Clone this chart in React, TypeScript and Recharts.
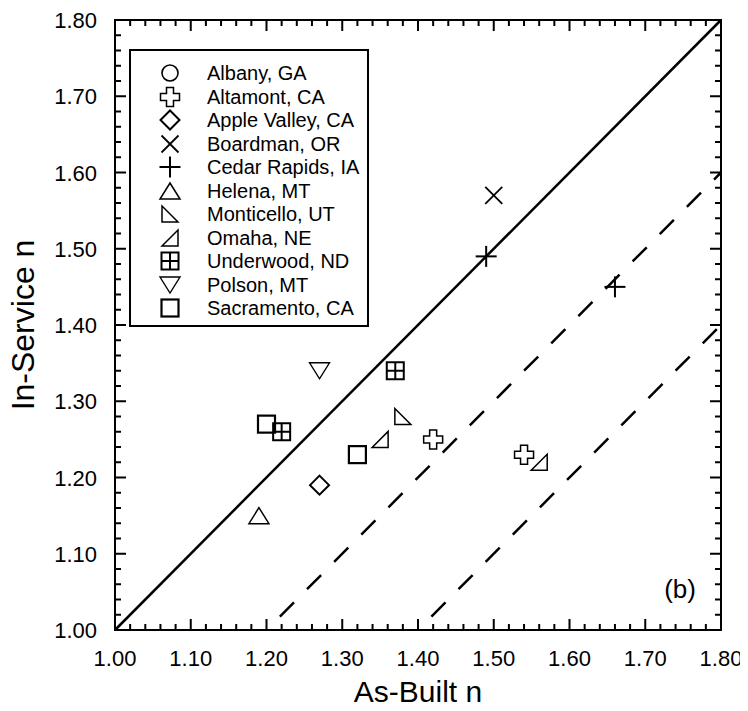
import { ScatterChart, Scatter, XAxis, YAxis, ReferenceLine, ReferenceDot, Legend } from 'recharts';

type Pt = { x: number; y: number };

// as-built n (x) vs in-service n (y), one array per site
const albany: Pt[] = [];
const altamont: Pt[] = [{ x: 1.42, y: 1.25 }, { x: 1.54, y: 1.23 }];
const appleValley: Pt[] = [{ x: 1.27, y: 1.19 }];
const boardman: Pt[] = [{ x: 1.5, y: 1.57 }];
const cedarRapids: Pt[] = [{ x: 1.49, y: 1.49 }, { x: 1.66, y: 1.45 }];
const helena: Pt[] = [{ x: 1.19, y: 1.15 }];
const monticello: Pt[] = [{ x: 1.38, y: 1.28 }];
const omaha: Pt[] = [{ x: 1.35, y: 1.25 }, { x: 1.56, y: 1.22 }];
const underwood: Pt[] = [{ x: 1.37, y: 1.34 }, { x: 1.22, y: 1.26 }];
const polson: Pt[] = [{ x: 1.27, y: 1.34 }];
const sacramento: Pt[] = [{ x: 1.2, y: 1.27 }, { x: 1.32, y: 1.23 }];

const majorTicks = [1.0, 1.1, 1.2, 1.3, 1.4, 1.5, 1.6, 1.7, 1.8];
const axisTicks = Array.from({ length: 41 }, (_, i) => (100 + 2 * i) / 100);

const series = [
  { name: 'Albany, GA', data: albany, marker: 'circle' },
  { name: 'Altamont, CA', data: altamont, marker: 'openCross' },
  { name: 'Apple Valley, CA', data: appleValley, marker: 'diamond' },
  { name: 'Boardman, OR', data: boardman, marker: 'x' },
  { name: 'Cedar Rapids, IA', data: cedarRapids, marker: 'plus' },
  { name: 'Helena, MT', data: helena, marker: 'triUp' },
  { name: 'Monticello, UT', data: monticello, marker: 'triLeft' },
  { name: 'Omaha, NE', data: omaha, marker: 'triRight' },
  { name: 'Underwood, ND', data: underwood, marker: 'squarePlus' },
  { name: 'Polson, MT', data: polson, marker: 'triDown' },
  { name: 'Sacramento, CA', data: sacramento, marker: 'square' },
];

const FONT = 'Arial, "Liberation Sans", Helvetica, sans-serif';
const isMajor = (v: number) => majorTicks.some((m) => Math.abs(m - v) < 1e-6);

function poly(cx: number, cy: number, pts: number[][]) {
  return pts.map(([px, py]) => `${cx + px},${cy + py}`).join(' ');
}

function Marker({ kind, cx, cy }: { kind: string; cx: number; cy: number }) {
  const st = { fill: 'none', stroke: '#000' };
  switch (kind) {
    case 'circle':
      return <circle cx={cx} cy={cy} r={8} {...st} strokeWidth={1.6} />;
    case 'openCross': {
      const a = 3.5, e = 9.5;
      const pts = [[-a, -e], [a, -e], [a, -a], [e, -a], [e, a], [a, a], [a, e], [-a, e], [-a, a], [-e, a], [-e, -a], [-a, -a]];
      return <polygon points={poly(cx, cy, pts)} {...st} strokeWidth={1.5} />;
    }
    case 'diamond':
      return <polygon points={poly(cx, cy, [[0, -9.5], [9.5, 0], [0, 9.5], [-9.5, 0]])} {...st} strokeWidth={2} />;
    case 'x':
      return (
        <g {...st} strokeWidth={1.8}>
          <line x1={cx - 8.5} y1={cy - 8.5} x2={cx + 8.5} y2={cy + 8.5} />
          <line x1={cx - 8.5} y1={cy + 8.5} x2={cx + 8.5} y2={cy - 8.5} />
        </g>
      );
    case 'plus':
      return (
        <g {...st} strokeWidth={2}>
          <line x1={cx - 10.5} y1={cy} x2={cx + 10.5} y2={cy} />
          <line x1={cx} y1={cy - 10.5} x2={cx} y2={cy + 10.5} />
        </g>
      );
    case 'triUp':
      return <polygon points={poly(cx, cy, [[0, -8], [10, 8], [-10, 8]])} {...st} strokeWidth={1.5} />;
    case 'triLeft':
      return <polygon points={poly(cx, cy, [[-8, -8], [-8, 8], [8, 8]])} {...st} strokeWidth={1.5} />;
    case 'triRight':
      return <polygon points={poly(cx, cy, [[8, -8], [8, 8], [-8, 8]])} {...st} strokeWidth={1.5} />;
    case 'squarePlus':
      return (
        <g {...st} strokeWidth={2}>
          <rect x={cx - 8.5} y={cy - 8.5} width={17} height={17} />
          <line x1={cx - 8.5} y1={cy} x2={cx + 8.5} y2={cy} />
          <line x1={cx} y1={cy - 8.5} x2={cx} y2={cy + 8.5} />
        </g>
      );
    case 'triDown':
      return <polygon points={poly(cx, cy, [[-10, -8], [10, -8], [0, 8]])} {...st} strokeWidth={1.4} />;
    default:
      return <rect x={cx - 8.5} y={cy - 8.5} width={17} height={17} {...st} strokeWidth={2.2} />;
  }
}

// custom ticks: inward tick marks, labels only on major ticks
const BottomTick = ({ x, y, payload }: any) => {
  const major = isMajor(payload.value);
  return (
    <g>
      <line x1={x} x2={x} y1={y} y2={y - (major ? 11 : 6)} stroke="#000" strokeWidth={2} />
      {major && (
        <text x={x} y={y + 36} textAnchor="middle" fontSize={22} fill="#000">
          {payload.value.toFixed(2)}
        </text>
      )}
    </g>
  );
};

const LeftTick = ({ x, y, payload }: any) => {
  const major = isMajor(payload.value);
  return (
    <g>
      <line x1={x} x2={x + (major ? 11 : 6)} y1={y} y2={y} stroke="#000" strokeWidth={2} />
      {major && (
        <text x={x - 18} y={y + 8} textAnchor="end" fontSize={22} fill="#000">
          {payload.value.toFixed(2)}
        </text>
      )}
    </g>
  );
};

const TopTick = ({ x, y, payload }: any) => (
  <line x1={x} x2={x} y1={y} y2={y + (isMajor(payload.value) ? 11 : 6)} stroke="#000" strokeWidth={2} />
);

const RightTick = ({ x, y, payload }: any) => (
  <line x1={x} x2={x - (isMajor(payload.value) ? 11 : 6)} y1={y} y2={y} stroke="#000" strokeWidth={2} />
);

const renderLegend = () => (
  <div
    style={{
      width: 240,
      height: 278,
      boxSizing: 'border-box',
      border: '2px solid #000',
      background: '#fff',
      position: 'relative',
      fontFamily: FONT,
    }}
  >
    {series.map((s, i) => {
      const cy = 22 + i * 23.5;
      return (
        <div key={s.name} style={{ position: 'absolute', left: 0, top: cy - 12, height: 24, width: '100%' }}>
          <svg width={24} height={24} style={{ position: 'absolute', left: 27, top: 0, overflow: 'visible' }}>
            <Marker kind={s.marker} cx={12} cy={12} />
          </svg>
          <span style={{ position: 'absolute', left: 76, top: 0, lineHeight: '24px', fontSize: 20, color: '#000', whiteSpace: 'nowrap' }}>
            {s.name}
          </span>
        </div>
      );
    })}
  </div>
);

const axisLine = { stroke: '#000', strokeWidth: 2, strokeLinecap: 'square' as const };

export default function App() {
  return (
    <div style={{ fontFamily: FONT }}>
      <ScatterChart width={740} height={703} margin={{ top: 11, right: 26, bottom: 10, left: 27 }}>
        <XAxis
          dataKey="x"
          type="number"
          domain={[1, 1.8]}
          allowDataOverflow
          ticks={axisTicks}
          interval={0}
          tickSize={0}
          tickMargin={0}
          tickLine={false}
          tick={BottomTick}
          axisLine={axisLine}
          height={71}
          label={{ value: 'As-Built n', position: 'insideBottom', offset: -1, fontSize: 30, fill: '#000' }}
        />
        <XAxis
          xAxisId="top"
          orientation="top"
          dataKey="x"
          type="number"
          domain={[1, 1.8]}
          allowDataOverflow
          ticks={axisTicks}
          interval={0}
          tickSize={0}
          tickMargin={0}
          tickLine={false}
          tick={TopTick}
          axisLine={axisLine}
          height={1}
        />
        <YAxis
          dataKey="y"
          type="number"
          domain={[1, 1.8]}
          allowDataOverflow
          ticks={axisTicks}
          interval={0}
          tickSize={0}
          tickMargin={0}
          tickLine={false}
          tick={LeftTick}
          axisLine={axisLine}
          width={80}
          label={{
            value: 'In-Service n',
            angle: -90,
            position: 'insideLeft',
            offset: -12,
            fontSize: 32,
            fill: '#000',
            style: { textAnchor: 'middle' },
          }}
        />
        <YAxis
          yAxisId="right"
          orientation="right"
          dataKey="y"
          type="number"
          domain={[1, 1.8]}
          allowDataOverflow
          ticks={axisTicks}
          interval={0}
          tickSize={0}
          tickMargin={0}
          tickLine={false}
          tick={RightTick}
          axisLine={axisLine}
          width={1}
        />

        <ReferenceLine segment={[{ x: 1.0, y: 1.0 }, { x: 1.8, y: 1.8 }]} stroke="#000" strokeWidth={2.5} />
        <ReferenceLine
          segment={[{ x: 1.2, y: 1.0 }, { x: 1.8, y: 1.6 }]}
          stroke="#000"
          strokeWidth={2.5}
          strokeDasharray="20 18.5"
          strokeDashoffset={19.5}
        />
        <ReferenceLine
          segment={[{ x: 1.4, y: 1.0 }, { x: 1.8, y: 1.4 }]}
          stroke="#000"
          strokeWidth={2.5}
          strokeDasharray="20 18.5"
          strokeDashoffset={19.5}
        />

        {series.map((s) => (
          <Scatter
            key={s.name}
            name={s.name}
            data={s.data}
            isAnimationActive={false}
            shape={(p: any) => <Marker kind={s.marker} cx={p.cx} cy={p.cy} />}
          />
        ))}

        <ReferenceDot
          x={1.746}
          y={1.054}
          r={0}
          fill="none"
          stroke="none"
          label={{ value: '(b)', position: 'center', fontSize: 26, fill: '#000' }}
        />

        <Legend
          content={renderLegend}
          layout="vertical"
          align="center"
          verticalAlign="middle"
          wrapperStyle={{ left: 121, top: 41, width: 240, height: 278 }}
        />
      </ScatterChart>
    </div>
  );
}
